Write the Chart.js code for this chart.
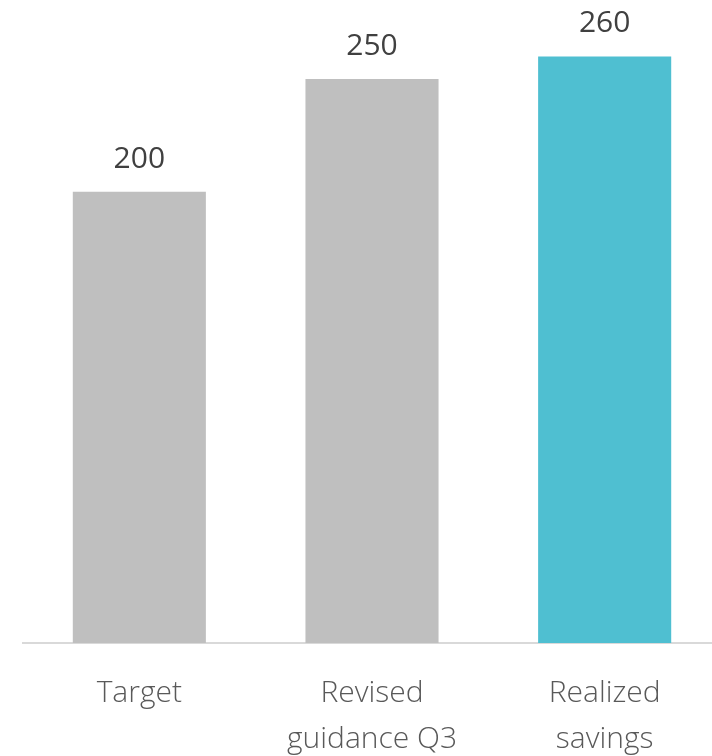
<!DOCTYPE html>
<html>
<head>
<meta charset="utf-8">
<script src="https://cdn.jsdelivr.net/npm/chart.js@4/dist/chart.umd.min.js"></script>
<style>
  html, body { margin: 0; padding: 0; background: #fff; overflow: hidden; }
  #box { position: relative; width: 721px; height: 756px; }
</style>
</head>
<body>
<div id="box"><canvas id="chart"></canvas></div>
<script>
// data
const categories = [['Target'], ['Revised', 'guidance Q3'], ['Realized', 'savings']];
const savings = [200, 250, 260];
const barColors = ['#bfbfbf', '#bfbfbf', '#4fbfd1'];

const fontFamily = "'Open Sans', 'Noto Sans', sans-serif";

// value labels above bars
const valueLabels = {
  id: 'valueLabels',
  afterDatasetsDraw(chart) {
    const { ctx } = chart;
    const meta = chart.getDatasetMeta(0);
    ctx.save();
    ctx.font = '400 30px ' + fontFamily;
    ctx.fillStyle = '#404040';
    ctx.textAlign = 'center';
    ctx.textBaseline = 'alphabetic';
    meta.data.forEach((bar, i) => {
      ctx.fillText(savings[i], bar.x, bar.y - 24);
    });
    ctx.restore();
  }
};

new Chart(document.getElementById('chart'), {
  type: 'bar',
  data: {
    labels: categories,
    datasets: [{
      data: savings,
      backgroundColor: barColors,
      borderWidth: 0,
      categoryPercentage: 1,
      barPercentage: 0.572
    }]
  },
  options: {
    responsive: true,
    maintainAspectRatio: false,
    animation: false,
    layout: { padding: { left: 23, right: 0, top: 0, bottom: 0 } },
    plugins: {
      legend: { display: false },
      tooltip: { enabled: false }
    },
    scales: {
      x: {
        grid: { display: false, drawTicks: false },
        border: { display: true, color: '#d9d9d9', width: 2 },
        ticks: {
          color: '#595959',
          padding: 28,
          maxRotation: 0,
          autoSkip: false,
          font: { family: fontFamily, size: 30, weight: 300, lineHeight: 1.53 }
        },
        afterFit: (scale) => { scale.height = 756 - 643; }
      },
      y: {
        display: false,
        min: 0,
        max: 285
      }
    }
  },
  plugins: [valueLabels]
});
</script>
</body>
</html>
